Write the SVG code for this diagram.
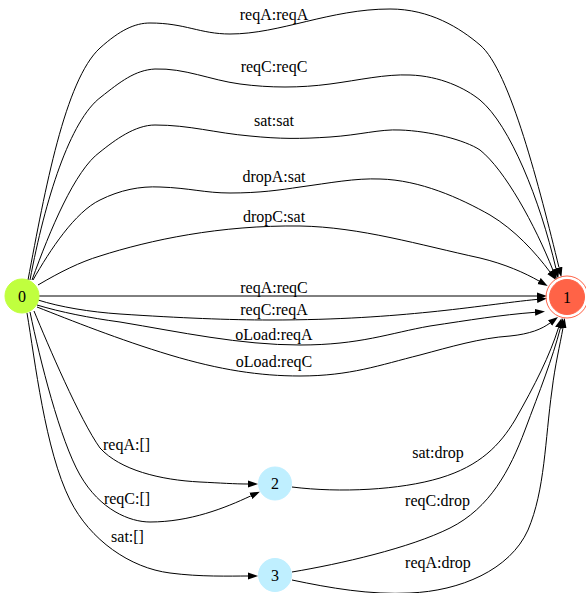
<svg xmlns="http://www.w3.org/2000/svg" width="586" height="593" viewBox="0 0 586 593">
<style>
.e{fill:none;stroke:#000;stroke-width:1;marker-end:url(#ah)}
.l{font-family:"Liberation Serif","Times New Roman",serif;font-size:16px;fill:#000;text-anchor:middle}
.n{font-family:"Liberation Serif","Times New Roman",serif;font-size:16px;fill:#000;text-anchor:middle}
</style>
<defs>
<marker id="ah" markerUnits="userSpaceOnUse" markerWidth="10" markerHeight="8" refX="0" refY="3.5" orient="auto" viewBox="0 0 10 7">
<path d="M0,0 L10,3.5 L0,7 z" fill="#000"/>
</marker>
</defs>
<rect width="586" height="593" fill="#fff"/>
<g id="edges">
<path class="e" d="M28,280 C45,190 65,80 100,48 C120,30 135,23 150,23 C185,23 200,34 230,34 C280,34 330,9 390,9 C430,9 460,28 480,45 C510,70 540,190 559,267.5"/>
<path class="e" d="M30,280 C45,200 70,120 101,97 C120,82 135,70 155,69 C185,68 210,80 240,84 C270,88 300,88 330,84 C360,80 385,74 410,75 C440,76 465,88 480,100 C510,125 540,200 556,268.7"/>
<path class="e" d="M32,280 C50,230 75,170 100,152 C115,140 135,125 155,125 C190,125 215,133 250,136 C280,139 300,139 330,137 C360,135 380,129 400,130 C430,131 465,140 480,150 C505,170 535,225 553,270.3"/>
<path class="e" d="M33,280 C50,250 75,212 100,200 C120,190 140,186 160,187 C190,188 205,193 230,193 C260,193 280,190 300,187 C330,183 355,178 380,179 C420,180 460,198 490,215 C515,230 535,252 550,272"/>
<path class="e" d="M38,285 C60,272 80,262 100,256 C150,240 220,225 300,226 C360,227 420,245 480,258 C505,264 525,273 539,281"/>
<path class="e" d="M39,296 L537,296"/>
<path class="e" d="M38,300 C60,307 90,312 120,314 C180,318 230,320 270,320 C340,320 390,316 430,312 C470,308 510,302 537,299.4"/>
<path class="e" d="M37,305 C60,312 90,318 120,322 C180,332 240,345 300,345 C360,345 390,333 430,326 C470,320 500,315 535,312.3"/>
<path class="e" d="M37,307 C70,320 120,340 170,355 C220,370 260,376 300,376 C350,376 380,365 420,355 C450,347 480,338 510,336 C530,334 542,329 550,323"/>
<path class="e" d="M34,311 C48,345 80,420 100,448 C120,470 160,480 200,482 C220,483 235,484 248,484"/>
<path class="e" d="M30,312 C40,360 60,440 80,475 C100,510 130,522 150,522 C190,522 225,508 250.8,495.9"/>
<path class="e" d="M27,313 C35,360 45,450 70,500 C90,540 130,568 170,573 C200,577 230,576 248,576"/>
<path class="e" d="M292,487 C340,493 400,490 440,478 C480,466 500,445 515,420 C535,385 550,355 558.5,327.7"/>
<path class="e" d="M292,572 C340,564 410,548 450,528 C490,508 510,470 525,430 C540,390 552,360 560.5,327.7"/>
<path class="e" d="M292,580 C330,588 370,595 410,593 C460,591 510,570 528,530 C545,490 545,440 552,390 C555,365 560,345 563,327.8"/>
</g>
<g id="labels">
<text class="l" x="274" y="20">reqA:reqA</text>
<text class="l" x="274" y="72">reqC:reqC</text>
<text class="l" x="274" y="126">sat:sat</text>
<text class="l" x="274" y="182">dropA:sat</text>
<text class="l" x="274" y="222">dropC:sat</text>
<text class="l" x="274" y="293">reqA:reqC</text>
<text class="l" x="274" y="315">reqC:reqA</text>
<text class="l" x="274" y="340">oLoad:reqA</text>
<text class="l" x="274" y="367">oLoad:reqC</text>
<text class="l" x="126.5" y="450">reqA:[]</text>
<text class="l" x="127" y="504">reqC:[]</text>
<text class="l" x="127.5" y="542">sat:[]</text>
<text class="l" x="438" y="458">sat:drop</text>
<text class="l" x="437.5" y="506">reqC:drop</text>
<text class="l" x="438" y="568">reqA:drop</text>
</g>
<g id="node0">
<circle cx="22" cy="296" r="17" fill="#c0ff3e" stroke="#c0ff3e"/>
<text class="n" x="22" y="301.5">0</text>
</g>
<g id="node1">
<circle cx="567" cy="297" r="17.5" fill="#ff6347" stroke="#ff6347"/>
<circle cx="567" cy="297" r="21" fill="none" stroke="#ff6347"/>
<text class="n" x="567" y="302.5">1</text>
</g>
<g id="node2">
<circle cx="275" cy="483.5" r="16.5" fill="#bfefff" stroke="#bfefff"/>
<text class="n" x="275" y="489">2</text>
</g>
<g id="node3">
<circle cx="275" cy="575" r="16.5" fill="#bfefff" stroke="#bfefff"/>
<text class="n" x="275" y="580.5">3</text>
</g>
</svg>
